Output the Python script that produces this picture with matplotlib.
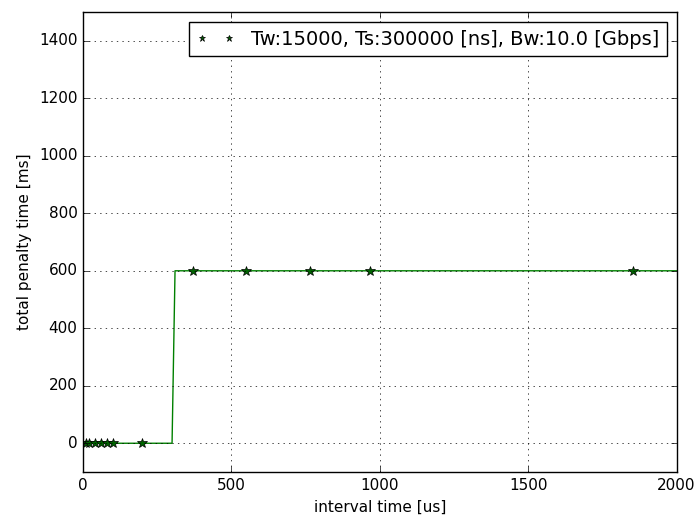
import matplotlib
matplotlib.use("Agg")
import matplotlib.pyplot as plt

plt.style.use('classic')

line_x = [0, 300, 310, 2000]
line_y = [0, 0, 600, 600]
pts_x = [10, 20, 40, 60, 80, 100, 200, 372, 550, 764, 966, 1852]
pts_y = [0, 0, 0, 0, 0, 0, 0, 600, 600, 600, 600, 600]
label = "Tw:15000, Ts:300000 [ns], Bw:10.0 [Gbps]"

plt.rcParams['font.size'] = 11

fig = plt.figure(figsize=(7, 5.15), dpi=100)
fig.patch.set_facecolor('white')
ax = fig.add_axes([0.1186, 0.0835, 0.848, 0.893])
ax.plot(line_x, line_y, color='g', linewidth=1)
ax.plot(pts_x, pts_y, linestyle='none', marker='*', markersize=7,
        markerfacecolor='darkgreen', markeredgecolor='black', label=label)
ax.set_xlim(0, 2000)
ax.set_ylim(-100, 1500)
ax.set_xticks([0, 500, 1000, 1500, 2000])
ax.set_yticks([0, 200, 400, 600, 800, 1000, 1200, 1400])
ax.tick_params(labelsize=11)
ax.grid(True)
ax.set_xlabel("interval time [us]", fontsize=11)
ax.set_ylabel("total penalty time [ms]", fontsize=11)
ax.legend(loc='upper right', numpoints=2, prop={'size': 14}, markerscale=0.7)
fig.savefig("out.png", dpi=100)
